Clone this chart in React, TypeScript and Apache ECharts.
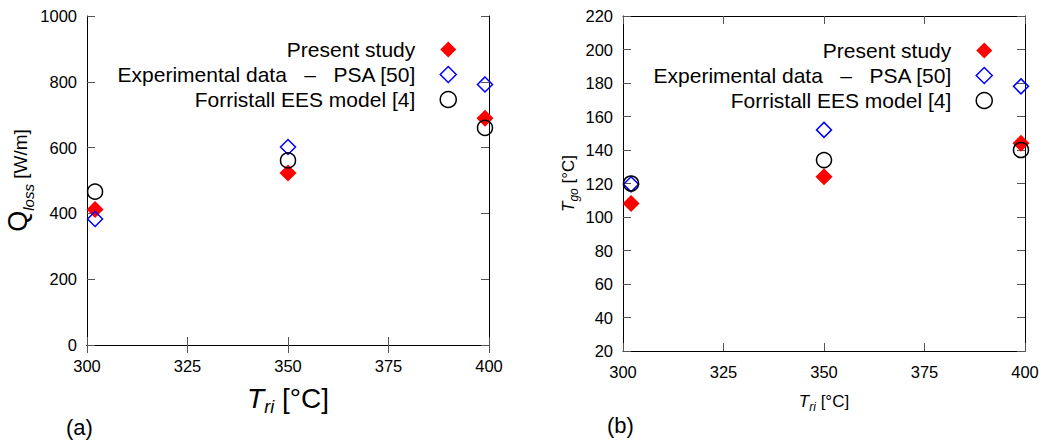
import React, { useEffect, useRef } from "react";
import * as echarts from "echarts";

const FONT = "Liberation Sans";

const seriesNames = ["Present study", "Experimental data \u00A0\u00A0\u2013\u00A0\u00A0 PSA [50]", "Forristall EES model [4]"];

// inlet temperature of receiver, °C
const tri = [302, 350, 399];

// (a) heat loss, W/m
const qPresent = [412, 523, 689];
const qExperimental = [383, 602, 792];
const qForristall = [466, 561, 660];

// (b) glass outer temperature, °C
const tPresent = [108, 124, 144];
const tExperimental = [119.5, 152, 178];
const tForristall = [120, 134, 140];

const xMin = 300, xMax = 400, xInterval = 25;
const qMin = 0, qMax = 1000, qInterval = 200;
const tMin = 20, tMax = 220, tInterval = 20;

function pairs(xs: number[], ys: number[]) {
  return xs.map((x, i) => [x, ys[i]]);
}

export default function App() {
  const ref = useRef<HTMLDivElement>(null);
  useEffect(() => {
    document.body.style.margin = "0";
    const chart = echarts.init(ref.current!, undefined, { renderer: "svg" });

    const lineStyle = { color: "#000", width: 1 };
    const tickStyle = { color: "#555", width: 1 };
    const labelStyle = { fontFamily: FONT, fontSize: 16.5, color: "#000", formatter: (v: number) => String(v) };

    const mkX = (gridIndex: number, name: string, rich: any, nameGap: number) => ({
      type: "value",
      gridIndex,
      min: xMin,
      max: xMax,
      interval: xInterval,
      position: "bottom",
      axisLine: { show: true, lineStyle },
      axisTick: { show: true, inside: true, length: 8, lineStyle: tickStyle },
      axisLabel: { ...labelStyle, margin: 12 },
      splitLine: { show: false },
      name,
      nameLocation: "middle",
      nameGap,
      nameTextStyle: { rich },
    });
    const mkXTop = (gridIndex: number) => ({
      type: "value",
      gridIndex,
      min: xMin,
      max: xMax,
      interval: xInterval,
      position: "top",
      axisLine: { show: true, lineStyle },
      axisTick: { show: true, inside: true, length: 8, lineStyle: tickStyle },
      axisLabel: { show: false },
      splitLine: { show: false },
    });
    const mkY = (gridIndex: number, min: number, max: number, interval: number, name: string, rich: any, nameGap: number) => ({
      type: "value",
      gridIndex,
      min,
      max,
      interval,
      position: "left",
      axisLine: { show: true, lineStyle },
      axisTick: { show: true, inside: true, length: 8, lineStyle: tickStyle },
      axisLabel: { ...labelStyle, margin: 10 },
      splitLine: { show: false },
      name,
      nameLocation: "middle",
      nameGap,
      nameRotate: 90,
      nameTextStyle: { rich },
    });
    const mkYRight = (gridIndex: number, min: number, max: number, interval: number) => ({
      type: "value",
      gridIndex,
      min,
      max,
      interval,
      position: "right",
      axisLine: { show: true, lineStyle },
      axisTick: { show: true, inside: true, length: 8, lineStyle: tickStyle },
      axisLabel: { show: false },
      splitLine: { show: false },
    });

    const richBig = {
      t: { fontFamily: FONT, fontSize: 28, fontStyle: "italic", color: "#000", verticalAlign: "bottom", padding: [0, 0, 4, 0] },
      s: { fontFamily: FONT, fontSize: 18, fontStyle: "italic", color: "#000", verticalAlign: "bottom" },
      n: { fontFamily: FONT, fontSize: 28, color: "#000", verticalAlign: "bottom", padding: [0, 0, 4, 0] },
    };
    const richQ = {
      t: { fontFamily: FONT, fontSize: 27, color: "#000", verticalAlign: "bottom", padding: [0, 0, 5, 0] },
      s: { fontFamily: FONT, fontSize: 15, fontStyle: "italic", color: "#000", verticalAlign: "bottom" },
      n: { fontFamily: FONT, fontSize: 19, color: "#000", verticalAlign: "bottom", padding: [0, 0, 6, 0] },
    };
    const richSmall = {
      t: { fontFamily: FONT, fontSize: 17, fontStyle: "italic", color: "#000", verticalAlign: "bottom", padding: [0, 0, 3, 0] },
      s: { fontFamily: FONT, fontSize: 12, fontStyle: "italic", color: "#000", verticalAlign: "bottom" },
      n: { fontFamily: FONT, fontSize: 17, color: "#000", verticalAlign: "bottom", padding: [0, 0, 3, 0] },
    };

    const styles = [
      { symbol: "diamond", symbolSize: 17, itemStyle: { color: "#ff0000", borderWidth: 0, opacity: 1 } },
      { symbol: "diamond", symbolSize: 15, itemStyle: { color: "rgba(255,255,255,0)", borderColor: "#0000ff", borderWidth: 1.5, opacity: 1 } },
      { symbol: "circle", symbolSize: 15, itemStyle: { color: "rgba(255,255,255,0)", borderColor: "#000000", borderWidth: 1.5, opacity: 1 } },
    ];

    const leftData = [qPresent, qExperimental, qForristall];
    const rightData = [tPresent, tExperimental, tForristall];

    const series: any[] = [];
    leftData.forEach((ys, i) => {
      series.push({
        type: "scatter",
        name: seriesNames[i],
        xAxisIndex: 0,
        yAxisIndex: 0,
        data: pairs(tri, ys),
        ...styles[i],
        emphasis: { disabled: true },
        z: 2 + i,
      });
    });
    rightData.forEach((ys, i) => {
      series.push({
        type: "scatter",
        name: seriesNames[i],
        xAxisIndex: 2,
        yAxisIndex: 2,
        data: pairs(tri, ys),
        ...styles[i],
        emphasis: { disabled: true },
        z: 2 + i,
      });
    });

    const legendData = [
      { name: seriesNames[0] },
      { name: seriesNames[1], itemStyle: { borderWidth: 1.5 } },
      { name: seriesNames[2], itemStyle: { borderWidth: 1.5 } },
    ];

    const legendBase = {
      data: legendData,
      orient: "vertical",
      align: "right",
      top: 39,
      padding: 0,
      itemWidth: 16,
      itemHeight: 16,
      itemGap: 4,
      selectedMode: false,
      textStyle: { fontFamily: FONT, fontSize: 21, color: "#000", padding: [0, 20, 0, 0] },
    };

    chart.setOption({
      animation: false,
      backgroundColor: "#fff",
      grid: [
        { left: 87, top: 16, width: 402, height: 329, containLabel: false },
        { left: 623, top: 16, width: 402, height: 335, containLabel: false },
      ],
      xAxis: [
        mkX(0, "{t|T}{s|ri}{n| [°C]}", richBig, 39),
        mkXTop(0),
        mkX(1, "{t|T}{s|ri}{n| [°C]}", richSmall, 42),
        mkXTop(1),
      ],
      yAxis: [
        mkY(0, qMin, qMax, qInterval, "{t|Q}{s|loss}{n| [W/m]}", richQ, 50),
        mkYRight(0, qMin, qMax, qInterval),
        mkY(1, tMin, tMax, tInterval, "{t|T}{s|go}{n| [°C]}", richSmall, 43),
        mkYRight(1, tMin, tMax, tInterval),
      ],
      legend: [
        { ...legendBase, right: 1042 - 457 },
        { ...legendBase, right: 1042 - 993, top: 40 },
      ],
      graphic: [
        { type: "text", left: 66, top: 416, style: { text: "(a)", fontFamily: FONT, fontSize: 22, fill: "#000" } },
        { type: "text", left: 607, top: 414, style: { text: "(b)", fontFamily: FONT, fontSize: 22, fill: "#000" } },
      ],
      series,
    });
    return () => chart.dispose();
  }, []);
  return <div ref={ref} style={{ width: 1042, height: 445 }} />;
}
